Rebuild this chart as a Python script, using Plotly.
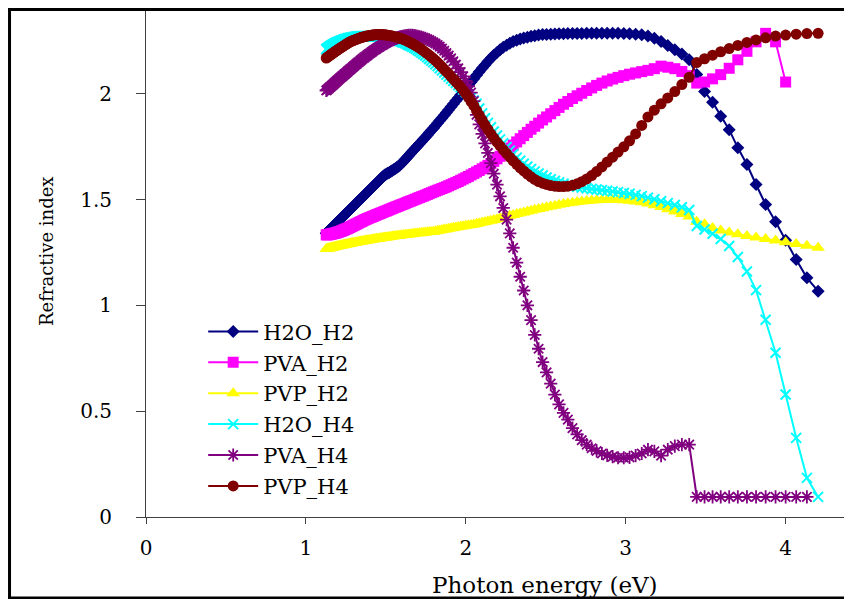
import plotly.graph_objects as go

# Photon energy grid (eV)
energy_ev = [
    1.127, 1.132, 1.138, 1.143, 1.148, 1.153, 1.159, 1.164, 1.170, 1.175,
    1.181, 1.187, 1.192, 1.198, 1.204, 1.210, 1.216, 1.222, 1.228, 1.234,
    1.240, 1.246, 1.253, 1.259, 1.265, 1.272, 1.278, 1.285, 1.292, 1.298,
    1.305, 1.312, 1.319, 1.326, 1.333, 1.341, 1.348, 1.355, 1.363, 1.370,
    1.378, 1.385, 1.393, 1.401, 1.409, 1.417, 1.425, 1.434, 1.442, 1.450,
    1.459, 1.467, 1.476, 1.485, 1.494, 1.503, 1.512, 1.521, 1.531, 1.540,
    1.550, 1.560, 1.570, 1.580, 1.590, 1.600, 1.610, 1.621, 1.632, 1.642,
    1.653, 1.664, 1.676, 1.687, 1.699, 1.710, 1.722, 1.734, 1.746, 1.759,
    1.771, 1.784, 1.797, 1.810, 1.824, 1.837, 1.851, 1.865, 1.879, 1.893,
    1.908, 1.922, 1.938, 1.953, 1.968, 1.984, 2.000, 2.016, 2.033, 2.050,
    2.067, 2.084, 2.102, 2.120, 2.138, 2.157, 2.175, 2.195, 2.214, 2.234,
    2.255, 2.275, 2.296, 2.318, 2.340, 2.362, 2.385, 2.408, 2.431, 2.455,
    2.480, 2.505, 2.531, 2.557, 2.583, 2.611, 2.638, 2.667, 2.696, 2.725,
    2.756, 2.787, 2.818, 2.851, 2.884, 2.918, 2.952, 2.988, 3.024, 3.062,
    3.100, 3.139, 3.179, 3.221, 3.263, 3.307, 3.351, 3.397, 3.444, 3.493,
    3.543, 3.594, 3.647, 3.701, 3.758, 3.815, 3.875, 3.937, 4.000, 4.066,
    4.133, 4.203,
]

h2o_h2 = [
    1.34, 1.344, 1.348, 1.352, 1.356, 1.36, 1.364, 1.368, 1.373, 1.376,
    1.381, 1.385, 1.389, 1.394, 1.398, 1.403, 1.407, 1.412, 1.416, 1.421,
    1.425, 1.43, 1.435, 1.44, 1.444, 1.45, 1.454, 1.459, 1.465, 1.469,
    1.475, 1.48, 1.485, 1.49, 1.496, 1.502, 1.507, 1.512, 1.518, 1.524,
    1.53, 1.535, 1.541, 1.547, 1.553, 1.559, 1.565, 1.572, 1.578, 1.584,
    1.591, 1.597, 1.604, 1.611, 1.616, 1.62, 1.624, 1.628, 1.632, 1.637,
    1.642, 1.647, 1.652, 1.657, 1.664, 1.672, 1.68, 1.689, 1.698, 1.707,
    1.716, 1.725, 1.735, 1.744, 1.754, 1.763, 1.773, 1.783, 1.793, 1.804,
    1.815, 1.826, 1.837, 1.849, 1.861, 1.873, 1.885, 1.898, 1.911, 1.924,
    1.938, 1.951, 1.966, 1.98, 1.994, 2.009, 2.024, 2.039, 2.055, 2.071,
    2.087, 2.103, 2.12, 2.136, 2.152, 2.167, 2.181, 2.195, 2.207, 2.219,
    2.229, 2.238, 2.246, 2.252, 2.258, 2.263, 2.267, 2.271, 2.274, 2.277,
    2.279, 2.28, 2.281, 2.282, 2.283, 2.283, 2.284, 2.284, 2.284, 2.284,
    2.285, 2.285, 2.285, 2.285, 2.285, 2.285, 2.285, 2.284, 2.283, 2.281,
    2.278, 2.272, 2.262, 2.246, 2.228, 2.208, 2.187, 2.16, 2.09, 2.01,
    1.96, 1.893, 1.83, 1.744, 1.665, 1.571, 1.476, 1.395, 1.307, 1.216,
    1.13, 1.067,
]

pva_h2 = [
    1.333, 1.333, 1.334, 1.334, 1.335, 1.336, 1.337, 1.338, 1.339, 1.34,
    1.341, 1.342, 1.343, 1.345, 1.346, 1.348, 1.349, 1.351, 1.353, 1.355,
    1.357, 1.359, 1.361, 1.363, 1.365, 1.368, 1.37, 1.373, 1.375, 1.378,
    1.38, 1.383, 1.385, 1.388, 1.391, 1.394, 1.396, 1.399, 1.402, 1.405,
    1.407, 1.41, 1.412, 1.415, 1.417, 1.42, 1.422, 1.425, 1.428, 1.43,
    1.433, 1.435, 1.438, 1.441, 1.444, 1.446, 1.449, 1.452, 1.455, 1.458,
    1.461, 1.464, 1.467, 1.47, 1.473, 1.476, 1.479, 1.482, 1.486, 1.489,
    1.492, 1.495, 1.499, 1.502, 1.506, 1.509, 1.513, 1.516, 1.52, 1.524,
    1.528, 1.532, 1.536, 1.54, 1.544, 1.548, 1.552, 1.556, 1.56, 1.565,
    1.57, 1.575, 1.58, 1.585, 1.591, 1.597, 1.603, 1.609, 1.616, 1.623,
    1.63, 1.637, 1.645, 1.653, 1.661, 1.67, 1.68, 1.692, 1.704, 1.717,
    1.73, 1.743, 1.757, 1.772, 1.787, 1.802, 1.817, 1.832, 1.846, 1.861,
    1.876, 1.89, 1.905, 1.92, 1.935, 1.95, 1.963, 1.977, 1.99, 2.002,
    2.015, 2.027, 2.039, 2.05, 2.06, 2.069, 2.077, 2.085, 2.092, 2.098,
    2.104, 2.11, 2.118, 2.13, 2.125, 2.118, 2.105, 2.085, 2.05, 2.055,
    2.07, 2.09, 2.12, 2.16, 2.2, 2.245, 2.285, 2.245, 2.055,
]

pvp_h2 = [
    1.266, 1.267, 1.268, 1.269, 1.27, 1.271, 1.272, 1.273, 1.274, 1.275,
    1.276, 1.277, 1.278, 1.279, 1.28, 1.281, 1.282, 1.283, 1.284, 1.285,
    1.286, 1.287, 1.288, 1.289, 1.29, 1.291, 1.292, 1.293, 1.294, 1.295,
    1.296, 1.297, 1.298, 1.299, 1.3, 1.301, 1.302, 1.303, 1.304, 1.305,
    1.306, 1.307, 1.308, 1.309, 1.31, 1.311, 1.312, 1.313, 1.314, 1.315,
    1.316, 1.317, 1.318, 1.319, 1.32, 1.321, 1.322, 1.323, 1.324, 1.325,
    1.326, 1.327, 1.328, 1.329, 1.33, 1.331, 1.332, 1.333, 1.334, 1.335,
    1.336, 1.337, 1.338, 1.339, 1.34, 1.341, 1.342, 1.343, 1.344, 1.345,
    1.346, 1.347, 1.348, 1.35, 1.352, 1.354, 1.356, 1.358, 1.36, 1.362,
    1.364, 1.366, 1.368, 1.37, 1.372, 1.374, 1.376, 1.378, 1.38, 1.382,
    1.385, 1.388, 1.391, 1.394, 1.397, 1.4, 1.403, 1.407, 1.411, 1.415,
    1.419, 1.423, 1.427, 1.431, 1.435, 1.439, 1.443, 1.447, 1.451, 1.455,
    1.459, 1.463, 1.467, 1.471, 1.475, 1.479, 1.482, 1.485, 1.488, 1.491,
    1.493, 1.495, 1.497, 1.498, 1.499, 1.499, 1.498, 1.496, 1.494, 1.491,
    1.487, 1.481, 1.473, 1.464, 1.454, 1.443, 1.431, 1.42, 1.395, 1.383,
    1.365, 1.354, 1.344, 1.336, 1.328, 1.32, 1.313, 1.306, 1.298, 1.29,
    1.281, 1.272,
]

h2o_h4 = [
    2.21, 2.213, 2.216, 2.219, 2.222, 2.225, 2.227, 2.23, 2.232, 2.235,
    2.237, 2.239, 2.241, 2.243, 2.245, 2.247, 2.249, 2.251, 2.253, 2.255,
    2.256, 2.258, 2.259, 2.261, 2.262, 2.263, 2.264, 2.265, 2.266, 2.267,
    2.268, 2.269, 2.27, 2.27, 2.271, 2.271, 2.272, 2.272, 2.272, 2.272,
    2.272, 2.272, 2.272, 2.272, 2.271, 2.271, 2.27, 2.27, 2.27, 2.27,
    2.27, 2.27, 2.27, 2.269, 2.269, 2.268, 2.267, 2.266, 2.264, 2.262,
    2.259, 2.256, 2.253, 2.25, 2.247, 2.244, 2.241, 2.238, 2.234, 2.23,
    2.226, 2.222, 2.217, 2.212, 2.206, 2.2, 2.194, 2.187, 2.18, 2.172,
    2.164, 2.156, 2.148, 2.139, 2.13, 2.12, 2.11, 2.1, 2.09, 2.08,
    2.07, 2.06, 2.05, 2.04, 2.03, 2.019, 2.008, 1.996, 1.982, 1.968,
    1.952, 1.93, 1.907, 1.884, 1.862, 1.841, 1.821, 1.802, 1.784, 1.766,
    1.748, 1.731, 1.714, 1.698, 1.683, 1.669, 1.656, 1.644, 1.633, 1.623,
    1.613, 1.604, 1.596, 1.588, 1.581, 1.575, 1.569, 1.564, 1.56, 1.556,
    1.553, 1.55, 1.547, 1.544, 1.541, 1.538, 1.535, 1.531, 1.527, 1.522,
    1.516, 1.509, 1.501, 1.492, 1.483, 1.474, 1.463, 1.45, 1.375, 1.358,
    1.338, 1.313, 1.28, 1.228, 1.16, 1.072, 0.932, 0.776, 0.579, 0.374,
    0.185, 0.095,
]

pva_h4 = [
    2.015, 2.018, 2.022, 2.025, 2.029, 2.032, 2.036, 2.04, 2.043, 2.047,
    2.051, 2.055, 2.059, 2.063, 2.067, 2.071, 2.075, 2.079, 2.083, 2.087,
    2.091, 2.095, 2.099, 2.103, 2.108, 2.112, 2.116, 2.12, 2.125, 2.129,
    2.133, 2.138, 2.142, 2.147, 2.151, 2.156, 2.16, 2.165, 2.169, 2.174,
    2.178, 2.182, 2.187, 2.191, 2.196, 2.2, 2.205, 2.209, 2.213, 2.217,
    2.221, 2.225, 2.229, 2.233, 2.237, 2.241, 2.245, 2.248, 2.252, 2.255,
    2.258, 2.261, 2.264, 2.266, 2.268, 2.27, 2.272, 2.273, 2.274, 2.275,
    2.275, 2.275, 2.274, 2.273, 2.271, 2.269, 2.267, 2.264, 2.261, 2.257,
    2.253, 2.248, 2.243, 2.237, 2.23, 2.222, 2.213, 2.203, 2.192, 2.18,
    2.167, 2.153, 2.137, 2.12, 2.102, 2.082, 2.06, 2.035, 2.005, 1.965,
    1.9, 1.855, 1.81, 1.765, 1.72, 1.672, 1.622, 1.57, 1.515, 1.46,
    1.405, 1.34, 1.272, 1.202, 1.135, 1.07, 1.0, 0.93, 0.86, 0.795,
    0.732, 0.683, 0.63, 0.578, 0.532, 0.492, 0.46, 0.42, 0.39, 0.363,
    0.342, 0.325, 0.312, 0.3, 0.291, 0.285, 0.28, 0.28, 0.282, 0.29,
    0.3, 0.318, 0.31, 0.29, 0.318, 0.335, 0.342, 0.342, 0.095, 0.095,
    0.095, 0.095, 0.095, 0.095, 0.095, 0.095, 0.095, 0.095, 0.095, 0.095,
    0.095,
]

pvp_h4 = [
    2.168, 2.171, 2.174, 2.177, 2.18, 2.183, 2.186, 2.189, 2.192, 2.195,
    2.198, 2.201, 2.204, 2.207, 2.21, 2.213, 2.216, 2.219, 2.222, 2.225,
    2.228, 2.231, 2.234, 2.237, 2.24, 2.243, 2.245, 2.248, 2.25, 2.252,
    2.254, 2.256, 2.258, 2.26, 2.262, 2.264, 2.266, 2.267, 2.269, 2.27,
    2.272, 2.273, 2.274, 2.275, 2.276, 2.277, 2.278, 2.278, 2.279, 2.279,
    2.279, 2.279, 2.279, 2.278, 2.278, 2.277, 2.276, 2.275, 2.274, 2.272,
    2.27, 2.268, 2.266, 2.264, 2.262, 2.259, 2.256, 2.253, 2.249, 2.245,
    2.241, 2.237, 2.232, 2.227, 2.221, 2.216, 2.21, 2.203, 2.196, 2.189,
    2.182, 2.174, 2.166, 2.157, 2.147, 2.137, 2.126, 2.115, 2.104, 2.093,
    2.081, 2.069, 2.056, 2.044, 2.031, 2.016, 2.0, 1.983, 1.963, 1.943,
    1.921, 1.899, 1.876, 1.853, 1.831, 1.81, 1.79, 1.771, 1.753, 1.735,
    1.717, 1.7, 1.683, 1.666, 1.65, 1.635, 1.62, 1.607, 1.595, 1.585,
    1.577, 1.571, 1.566, 1.563, 1.561, 1.561, 1.563, 1.567, 1.574, 1.584,
    1.597, 1.613, 1.632, 1.654, 1.677, 1.7, 1.724, 1.749, 1.777, 1.81,
    1.85, 1.89, 1.922, 1.952, 1.98, 2.01, 2.043, 2.077, 2.147, 2.165,
    2.182, 2.198, 2.213, 2.228, 2.242, 2.254, 2.264, 2.272, 2.277, 2.281,
    2.284, 2.285,
]

series_names = ["H2O_H2", "PVA_H2", "PVP_H2", "H2O_H4", "PVA_H4", "PVP_H4"]
x_tick_vals = [0, 1, 2, 3, 4]
x_tick_text = ["0", "1", "2", "3", "4"]
y_tick_vals = [0, 0.5, 1, 1.5, 2]
y_tick_text = ["0", "0.5", "1", "1.5", "2"]
x_title = "Photon energy (eV)"
y_title = "Refractive index"

series_values = [h2o_h2, pva_h2, pvp_h2, h2o_h4, pva_h4, pvp_h4]
styles = [
    dict(color="#000080", symbol="diamond", size=10, lw=0),
    dict(color="#FF00FF", symbol="square", size=11, lw=0),
    dict(color="#FFFF00", symbol="triangle-up", size=12, lw=0),
    dict(color="#00FFFF", symbol="x-thin-open", size=10, lw=2),
    dict(color="#800080", symbol="asterisk-open", size=11, lw=1.8),
    dict(color="#800000", symbol="circle", size=11, lw=0),
]

fig = go.Figure()
for name, vals, st in zip(series_names, series_values, styles):
    marker = dict(symbol=st["symbol"], size=st["size"], color=st["color"])
    if st["lw"]:
        marker["line"] = dict(color=st["color"], width=st["lw"])
    fig.add_trace(go.Scatter(
        x=energy_ev[:len(vals)], y=vals, mode="lines+markers", name=name,
        legendgroup=name,
        line=dict(color=st["color"], width=2),
        marker=marker,
    ))

# page is offset by the browser's 8px body margin
axis_col = "#404040"
fig.update_layout(
    width=852, height=599,
    margin=dict(l=138, r=8, t=1, b=90),
    paper_bgcolor="white", plot_bgcolor="white",
    font=dict(family="DejaVu Serif", color="black"),
    legend=dict(
        x=0.081, y=0.405, xanchor="left", yanchor="top",
        bgcolor="rgba(0,0,0,0)", font=dict(size=21, color="black"),
        tracegroupgap=0.6, itemwidth=50,
    ),
    xaxis=dict(
        range=[0, 4.415], tickvals=x_tick_vals, ticktext=x_tick_text,
        ticks="outside", ticklen=6, tickcolor=axis_col,
        showline=True, linecolor=axis_col, linewidth=1,
        showgrid=False, zeroline=False, tickfont=dict(size=20),
        ticklabelstandoff=7,
    ),
    yaxis=dict(
        range=[0, 2.4], tickvals=y_tick_vals, ticktext=y_tick_text,
        ticks="outside", ticklen=9, tickcolor=axis_col,
        showline=True, linecolor=axis_col, linewidth=1,
        showgrid=False, zeroline=False, tickfont=dict(size=20),
        ticklabelstandoff=20,
    ),
    annotations=[
        dict(text=x_title, xref="paper", yref="paper", x=0.565, y=-0.134,
             xanchor="center", yanchor="middle", showarrow=False,
             font=dict(size=23)),
        dict(text=y_title, xref="paper", yref="paper", x=-0.1416, y=0.5236,
             xanchor="center", yanchor="middle", showarrow=False,
             textangle=-90, font=dict(size=18)),
    ],
    shapes=[
        dict(type="rect", xref="paper", yref="paper",
             x0=-0.1933, y0=-0.1594, x1=1.03, y1=0.999,
             line=dict(color="black", width=3)),
    ],
)

fig.write_html("out.html")
